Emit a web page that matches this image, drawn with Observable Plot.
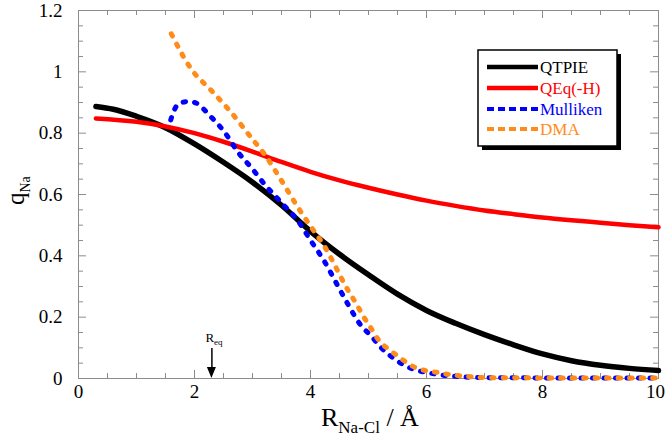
<!DOCTYPE html>
<html><head><meta charset="utf-8">
<script src="https://cdn.jsdelivr.net/npm/d3@7"></script>
<script src="https://cdn.jsdelivr.net/npm/@observablehq/plot@0.6"></script>
<style>body{margin:0;background:#fff} svg{display:block}</style>
</head><body><div id="chart"></div>
<script>
// ---- data ----
const seriesNames = ["QTPIE", "QEq(-H)", "Mulliken", "DMA"];
const seriesColors = ["#000000", "#ff0000", "#0000ff", "#ff8c1a"];

const qtpieX = [0.3, 0.6, 1.0, 1.5, 2.0, 2.5, 3.0, 3.5, 4.0, 4.5, 5.0, 5.5, 6.0, 6.5, 7.0, 7.5, 8.0, 8.5, 9.0, 9.5, 10.0];
const qtpieY = [0.887, 0.878, 0.855, 0.818, 0.765, 0.705, 0.64, 0.565, 0.48, 0.405, 0.338, 0.275, 0.222, 0.18, 0.143, 0.11, 0.08, 0.058, 0.043, 0.033, 0.026];

const qeqX = [0.3, 1.0, 1.5, 2.0, 2.5, 3.0, 3.5, 4.0, 4.5, 5.0, 5.5, 6.0, 6.5, 7.0, 7.5, 8.0, 8.5, 9.0, 9.5, 10.0];
const qeqY = [0.848, 0.837, 0.822, 0.80, 0.772, 0.74, 0.706, 0.674, 0.646, 0.622, 0.60, 0.58, 0.563, 0.548, 0.536, 0.525, 0.516, 0.508, 0.50, 0.493];

const mullX = [1.59, 1.65, 1.75, 1.88, 2.0, 2.29, 2.52, 2.75, 3.0, 3.2, 3.5, 3.78, 4.0, 4.23, 4.5, 4.64, 4.87, 5.04, 5.21, 5.41, 5.59, 5.79, 6.0, 6.2, 6.5, 7.0, 8.0, 9.0, 10.0];
const mullY = [0.843, 0.875, 0.898, 0.903, 0.90, 0.852, 0.803, 0.738, 0.683, 0.635, 0.573, 0.515, 0.451, 0.385, 0.292, 0.244, 0.173, 0.14, 0.102, 0.069, 0.046, 0.029, 0.02, 0.013, 0.007, 0.003, 0.002, 0.002, 0.002];

const dmaX = [1.6, 1.94, 2.29, 2.63, 3.0, 3.2, 3.5, 3.78, 4.0, 4.23, 4.64, 4.8, 4.92, 5.04, 5.18, 5.38, 5.59, 5.79, 5.98, 6.19, 6.36, 6.7, 7.0, 8.0, 9.0, 10.0];
const dmaY = [1.124, 1.01, 0.939, 0.868, 0.78, 0.733, 0.645, 0.559, 0.497, 0.434, 0.29, 0.24, 0.20, 0.165, 0.124, 0.091, 0.061, 0.037, 0.026, 0.02, 0.014, 0.007, 0.003, 0.002, 0.002, 0.002];

const xTickValues = [0, 2, 4, 6, 8, 10];
const xTickLabels = ["0", "2", "4", "6", "8", "10"];
const yTickValues = [0, 0.2, 0.4, 0.6, 0.8, 1.0, 1.2];
const yTickLabels = ["0", "0.2", "0.4", "0.6", "0.8", "1", "1.2"];
const xMinorStep = 0.5;
const yMinorStep = 0.05;

const reqX = [2.3];
const reqArrowTop = [0.098];

// ---- layout ----
const W = 666, H = 441;
const mL = 78, mR = 8, mT = 10, mB = 63;
const pw = W - mL - mR, ph = H - mT - mB;
const FONT = "'Liberation Serif', 'Times New Roman', serif";
const frameColor = "#8c8c8c";

function rows(name, xs, ys) { return xs.map((x, i) => ({s: name, x, y: ys[i]})); }
const table = [
  ...rows(seriesNames[0], qtpieX, qtpieY),
  ...rows(seriesNames[1], qeqX, qeqY),
  ...rows(seriesNames[2], mullX, mullY),
  ...rows(seriesNames[3], dmaX, dmaY)
];

const xMinor = d3.range(0, 10 + 1e-9, xMinorStep);
const yMinor = d3.range(0, 1.2 + 1e-9, yMinorStep);
const isMajorX = v => xTickValues.some(t => Math.abs(t - v) < 1e-6);
const isMajorY = v => yTickValues.some(t => Math.abs(t - v) < 1e-6);
const xLabel = d => xTickLabels[xTickValues.indexOf(d)];
const xMax = xTickValues[xTickValues.length - 1];

const lineStyles = [
  {strokeWidth: 5.5},
  {strokeWidth: 4.5},
  {strokeWidth: 5, strokeDasharray: "2.5,9", strokeLinecap: "round"},
  {strokeWidth: 5, strokeDasharray: "2.5,9", strokeLinecap: "round"}
];

const plot = Plot.plot({
  width: W, height: H,
  marginLeft: mL, marginRight: mR, marginTop: mT, marginBottom: mB,
  style: {fontFamily: FONT, background: "#fff", overflow: "visible"},
  x: {domain: [0, 10]},
  y: {domain: [0, 1.2]},
  marks: [
    // inward ticks on all four sides
    Plot.tickY(yMinor, {y: d => d, stroke: frameColor, insetRight: pw - 5, filter: d => !isMajorY(d)}),
    Plot.tickY(yTickValues, {y: d => d, stroke: frameColor, insetRight: pw - 8}),
    Plot.tickY(yMinor, {y: d => d, stroke: frameColor, insetLeft: pw - 5, filter: d => !isMajorY(d)}),
    Plot.tickY(yTickValues, {y: d => d, stroke: frameColor, insetLeft: pw - 8}),
    Plot.tickX(xMinor, {x: d => d, stroke: frameColor, insetTop: ph - 5, filter: d => !isMajorX(d)}),
    Plot.tickX(xTickValues, {x: d => d, stroke: frameColor, insetTop: ph - 8}),
    Plot.tickX(xMinor, {x: d => d, stroke: frameColor, insetBottom: ph - 5, filter: d => !isMajorX(d)}),
    Plot.tickX(xTickValues, {x: d => d, stroke: frameColor, insetBottom: ph - 8}),
    Plot.frame({stroke: frameColor, strokeWidth: 1}),
    Plot.axisX(xTickValues.filter(d => d !== xMax), {tickSize: 0, tickPadding: 6, fontSize: 19, fontFamily: FONT, label: null,
      tickFormat: xLabel}),
    Plot.axisX([xMax], {tickSize: 0, tickPadding: 6, fontSize: 19, fontFamily: FONT, label: null, dx: -3,
      tickFormat: xLabel}),
    Plot.axisY(yTickValues, {tickSize: 0, tickPadding: 16, fontSize: 19, fontFamily: FONT, label: null,
      tickFormat: d => yTickLabels[yTickValues.indexOf(d)]}),
    ...seriesNames.map((name, i) => Plot.line(table, {
      filter: d => d.s === name, x: "x", y: "y",
      stroke: seriesColors[i], curve: "monotone-x", ...lineStyles[i]
    })),
    Plot.ruleX(reqX, {x: d => d, y1: reqArrowTop[0], y2: 0.02, stroke: "#000", strokeWidth: 1.5})
  ]
});
document.getElementById("chart").appendChild(plot);

const svg = d3.select(plot);
const sx = plot.scale("x"), sy = plot.scale("y");
const fontStyle = `font-family:${FONT};`;

// arrow head for R_eq
const ax = sx.apply(reqX[0]), ay = sy.apply(0);
svg.append("path").attr("d", `M${ax - 4.5},${ay - 11} L${ax + 4.5},${ay - 11} L${ax},${ay} Z`).attr("fill", "#000");
const reqText = svg.append("text").attr("x", ax - 6).attr("y", sy.apply(reqArrowTop[0]) - 6)
  .attr("text-anchor", "start").attr("style", fontStyle).attr("font-size", 13).attr("fill", "#000");
reqText.append("tspan").text("R");
reqText.append("tspan").attr("font-size", 9).attr("dy", 3).text("eq");

// x-axis title
const xt = svg.append("text").attr("x", 321).attr("y", 426).attr("text-anchor", "start")
  .attr("style", fontStyle).attr("fill", "#000");
xt.append("tspan").attr("font-size", 26).text("R");
xt.append("tspan").attr("font-size", 17).attr("dy", 7).text("Na-Cl");
xt.append("tspan").attr("font-size", 26).attr("dy", -7).text(" / Å");

// y-axis title
const yt = svg.append("text").attr("transform", "translate(24,205) rotate(-90)").attr("text-anchor", "start")
  .attr("style", fontStyle).attr("fill", "#000");
yt.append("tspan").attr("font-size", 25).text("q");
yt.append("tspan").attr("font-size", 14).attr("dy", 6).text("Na");

// legend
const lg = svg.append("g").attr("text-anchor", "start");
const bx = 478, by = 50, bw = 139, bh = 96;
lg.append("rect").attr("x", bx + 4).attr("y", by + 4).attr("width", bw).attr("height", bh).attr("fill", "#000");
lg.append("rect").attr("x", bx).attr("y", by).attr("width", bw).attr("height", bh).attr("fill", "#fff").attr("stroke", "#000").attr("stroke-width", 1.5);
const rowY = [67, 88, 109, 129];
const legendDash = [null, null, "7,4", "7,4"];
seriesNames.forEach((name, i) => {
  lg.append("line").attr("x1", 487).attr("x2", 538).attr("y1", rowY[i]).attr("y2", rowY[i])
    .attr("stroke", seriesColors[i]).attr("stroke-width", i < 2 ? 4.5 : 4)
    .attr("stroke-dasharray", legendDash[i]);
  lg.append("text").attr("x", 540).attr("y", rowY[i] + 5.5).attr("style", fontStyle + "font-size:17px;")
    .attr("fill", seriesColors[i]).text(name);
});
</script>
</body></html>
